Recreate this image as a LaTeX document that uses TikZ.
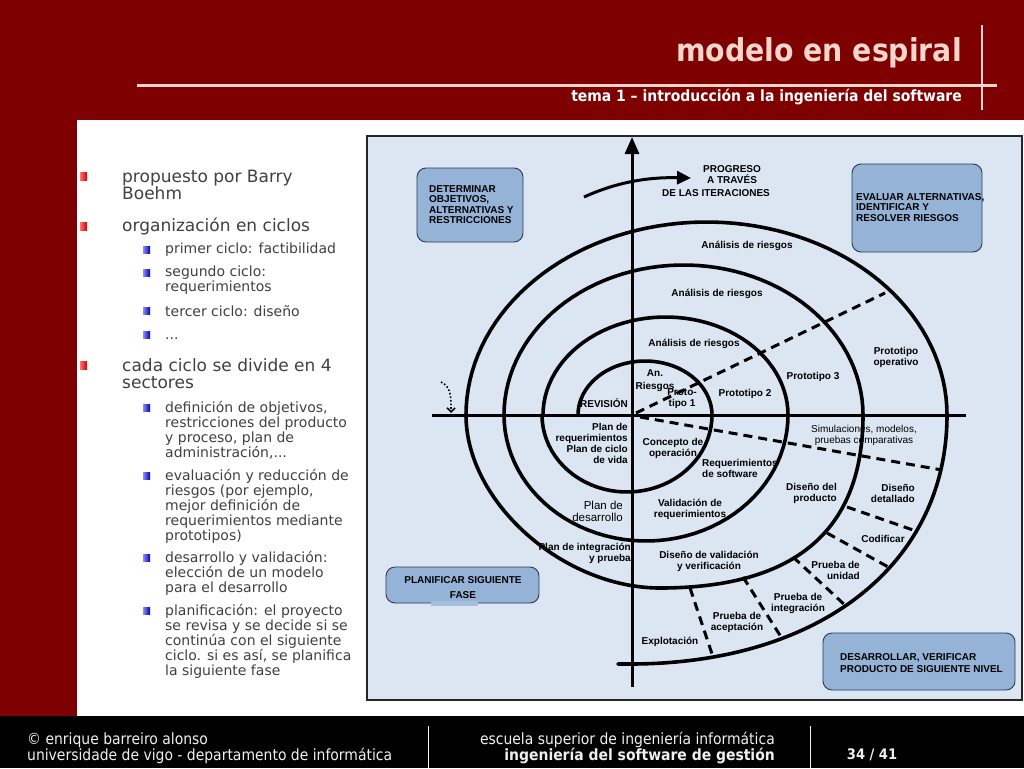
\documentclass[tikz,border=0pt]{standalone}
\usepackage{fontspec}
\setmainfont{DejaVu Sans}
\newfontfamily\condf{DejaVu Sans Condensed}
\newfontfamily\arialf{Liberation Sans}
\usetikzlibrary{arrows.meta}
\definecolor{darkred}{HTML}{7F0000}
\definecolor{pinkt}{HTML}{F6D5CC}
\definecolor{diagbg}{HTML}{DCE6F2}
\definecolor{boxfill}{HTML}{95B3D7}
\definecolor{boxline}{HTML}{2B3B55}
\definecolor{bodytext}{HTML}{404040}
\definecolor{foottext}{HTML}{F0F0F0}
\begin{document}
\begin{tikzpicture}[x=1pt,y=-1pt,
  lbl/.style={font=\arialf\bfseries\fontsize{10}{11}\selectfont, inner sep=0pt, align=center},
  lblr/.style={font=\arialf\fontsize{10}{11}\selectfont, inner sep=0pt, align=center},
  boxtext/.style={font=\arialf\bfseries\fontsize{10}{10.5}\selectfont, inner sep=0pt, align=left},
  bluebox/.style={draw=boxline, fill=boxfill, line width=0.9, rounded corners=9pt, inner sep=0pt},
  spiral/.style={line width=3.6, line join=round, line cap=round},
  axis/.style={line width=3},
  sector/.style={line width=3, dash pattern=on 9pt off 6pt},
  lone/.style={font=\fontsize{17}{17}\selectfont, text=bodytext, inner sep=0pt, align=left},
  ltwo/.style={font=\fontsize{14}{15}\selectfont, text=bodytext, inner sep=0pt, align=left},
  foot/.style={font=\condf\fontsize{15.5}{16}\selectfont, text=foottext, inner sep=0pt}
]
\useasboundingbox (0,0) rectangle (1024,768);
% background
\fill[darkred] (0,0) rectangle (1024,768);
\fill[white] (77,120) rectangle (1024,716);
\fill[black] (0,716) rectangle (1024,768);

% header
\node[anchor=east, inner sep=0pt, text=pinkt, font=\condf\bfseries\fontsize{31.5}{34}\selectfont] (title) at (962,53) {modelo en espiral};
\draw[pinkt, line width=3] (137,85) -- (997,85);
\draw[pinkt, line width=2] (982,25) -- (982,110);
\node[anchor=east, inner sep=0pt, text=white, font=\condf\bfseries\fontsize{15.5}{17}\selectfont] (subtitle) at (962,97) {tema 1 – introducción a la ingeniería del software};

% footer
\node[foot, anchor=west, align=left] (foot1) at (27,748) {© enrique barreiro alonso\\universidade de vigo - departamento de informática};
\node[foot, anchor=east, align=right] (foot2) at (775,748) {escuela superior de ingeniería informática\\{\bfseries ingeniería del software de gestión}};
\node[foot, font=\condf\bfseries\fontsize{14.5}{16}\selectfont] (foot3) at (872,755) {34 / 41};
\draw[foottext, line width=1] (428,726) -- (428,768);
\draw[foottext, line width=1] (810,726) -- (810,768);

% left bullets
\foreach \yy in {176,226,365}{
  \shade[left color=red!55!white, right color=red!80!black] (80,\yy-4) rectangle (87,\yy+4);
}
\foreach \yy in {250,273,311,335,408,476,558,611}{
  \shade[left color=blue!45!white, right color=blue!70!black] (143,\yy-3.5) rectangle (150,\yy+3.5);
}
\node[lone, anchor=west] (t1) at (122,184.5) {propuesto por Barry\\Boehm};
\node[lone, anchor=west] (t2) at (122,226) {organización en ciclos};
\node[ltwo, anchor=west] (t3) at (165,250) {primer ciclo: factibilidad};
\node[ltwo, anchor=west] (t4) at (165,280.5) {segundo ciclo:\\requerimientos};
\node[ltwo, anchor=west] (t5) at (165,311) {tercer ciclo: diseño};
\node[ltwo, anchor=base west] (t6) at (165,339) {...};
\node[lone, anchor=west] (t7) at (122,374) {cada ciclo se divide en 4\\sectores};
\node[ltwo, anchor=west] (t8) at (165,430) {definición de objetivos,\\restricciones del producto\\y proceso, plan de\\administración,...};
\node[ltwo, anchor=west] (t9) at (165,506) {evaluación y reducción de\\riesgos (por ejemplo,\\mejor definición de\\requerimientos mediante\\prototipos)};
\node[ltwo, anchor=west] (t10) at (165,573) {desarrollo y validación:\\elección de un modelo\\para el desarrollo};
\node[ltwo, anchor=west] (t11) at (165,641) {planificación: el proyecto\\se revisa y se decide si se\\continúa con el siguiente\\ciclo. si es así, se planifica\\la siguiente fase};

% diagram panel
\draw[line width=2, draw=black!85, fill=diagbg] (367,136) rectangle (1022,700);

% boxes
\node[bluebox, minimum width=106, minimum height=74] (detbox) at (470,205) {};
\node[boxtext, anchor=west] (dett) at (429,204.5) {DETERMINAR\\OBJETIVOS,\\ALTERNATIVAS Y\\RESTRICCIONES};
\node[bluebox, minimum width=130, minimum height=88] (evabox) at (917,208) {};
\node[boxtext, anchor=west] (evat) at (856,207.5) {EVALUAR ALTERNATIVAS,\\IDENTIFICAR Y\\RESOLVER RIESGOS};
\node[bluebox, minimum width=153, minimum height=36] (plabox) at (462.5,585) {};
\fill[boxfill!85!white] (431,601) rectangle (478,606);
\node[boxtext, align=center, font=\arialf\bfseries\fontsize{10}{15}\selectfont] (plat) at (463,587.5) {PLANIFICAR SIGUIENTE\\FASE};
\node[bluebox, minimum width=192, minimum height=57] (desbox) at (919,661.5) {};
\node[boxtext, anchor=west, font=\arialf\bfseries\fontsize{10}{12}\selectfont] (dest) at (840,663) {DESARROLLAR, VERIFICAR\\PRODUCTO DE SIGUIENTE NIVEL};

% axes
\coordinate (vbot) at (632,687);
\coordinate (vtop) at (632,137);
\coordinate (hl) at (432,415);
\coordinate (hr) at (966,415);
\draw[axis, -{Triangle[width=14pt,length=17pt]}] (vbot) -- (vtop);
\draw[axis] (hl) -- (hr);

% progress arrow
\coordinate (pa) at (584,197);
\coordinate (pb) at (691,178);
\draw[line width=3, -{Triangle[width=13pt,length=14pt]}] (pa) .. controls (615,183) and (645,177) .. (pb);

% dotted arrow
\coordinate (da) at (441,382);
\coordinate (db) at (451,413);
\draw[line width=1.6, dotted, -{Straight Barb[length=4pt,width=8pt]}] (da) .. controls (451,387) and (451,396) .. (db);

% spiral
\draw[spiral]
  plot[domain=180:360,samples=40] ({645+67*cos(\x)},{415+54*sin(\x)})
  -- plot[domain=0:180,samples=40] ({627+85*cos(\x)},{415+77*sin(\x)})
  -- plot[domain=180:360,samples=50] ({665.5+122.5*cos(\x)},{415+98*sin(\x)})
  -- plot[domain=0:180,samples=50] ({646+142*cos(\x)},{415+126*sin(\x)})
  -- plot[domain=180:360,samples=60] ({683.5+179.5*cos(\x)},{415+150*sin(\x)})
  .. controls (863,535) and (790,588) .. (660,588)
  .. controls (563,588) and (466,502) .. (466,415)
  -- plot[domain=180:360,samples=70] ({706.5+240.5*cos(\x)},{415+193*sin(\x)})
  .. controls (947,564) and (820,664) .. (630,664)
  -- (618,664);

% sector lines
\draw[sector] (636,413) -- (885,293);
\draw[sector] (640,417) -- (942,470);
\draw[sector] (847,507) -- (913,530);
\draw[sector] (827,533) -- (890,568);
\draw[sector] (793,557) -- (847,607);
\draw[sector] (743,577) -- (783,640);
\draw[sector] (690,588) -- (713,657);

% labels
\node[lbl] (prog1) at (732,174.5) {PROGRESO\\A TRAVÉS};
\node[lbl] (prog2) at (716,193) {DE LAS ITERACIONES};
\node[lbl] (ar3) at (747,246) {Análisis de riesgos};
\node[lbl] (ar2) at (717,294) {Análisis de riesgos};
\node[lbl] (ar1) at (694,344) {Análisis de riesgos};
\node[lbl, font=\arialf\bfseries\fontsize{10}{13}\selectfont] (anr) at (655,380.5) {An.\\Riesgos};
\node[lbl] (pt1) at (682,398.5) {Proto-\\tipo 1};
\node[lbl] (pt2) at (745,394) {Prototipo 2};
\node[lbl] (rev) at (604,403) {REVISIÓN};
\node[lbl] (pt3) at (813,377) {Prototipo 3};
\node[lbl] (pto) at (896,357.5) {Prototipo\\operativo};
\node[lbl, anchor=east, align=right] (preq) at (628,443.5) {Plan de\\requerimientos\\Plan de ciclo\\de vida};
\node[lbl] (cop) at (673,448) {Concepto de\\operación};
\node[lbl, anchor=west, align=left] (rsw) at (702,468) {Requerimientos\\de software};
\node[lbl, anchor=east, align=right, font=\arialf\fontsize{11.5}{11.5}\selectfont] (pdes) at (623,511.5) {Plan de\\desarrollo};
\node[lbl] (vreq) at (690,509.5) {Validación de\\requerimientos};
\node[lbl, anchor=east, align=right] (pint) at (631,553) {Plan de integración\\y prueba};
\node[lbl] (dval) at (709,561.5) {Diseño de validación\\y verificación};
\node[lblr] (sim) at (864,435.5) {Simulaciones, modelos,\\pruebas comparativas};
\node[lbl, anchor=east, align=right] (dprod) at (837,493.5) {Diseño del\\producto};
\node[lbl, anchor=east, align=right] (ddet) at (915,493.5) {Diseño\\detallado};
\node[lbl] (cod) at (883,539) {Codificar};
\node[lbl, anchor=east, align=right] (pun) at (860,570) {Prueba de\\unidad};
\node[lbl] (pin) at (798,603.5) {Prueba de\\integración};
\node[lbl] (pac) at (737,622) {Prueba de\\aceptación};
\node[lbl] (exp) at (670,642) {Explotación};
\end{tikzpicture}
\end{document}
